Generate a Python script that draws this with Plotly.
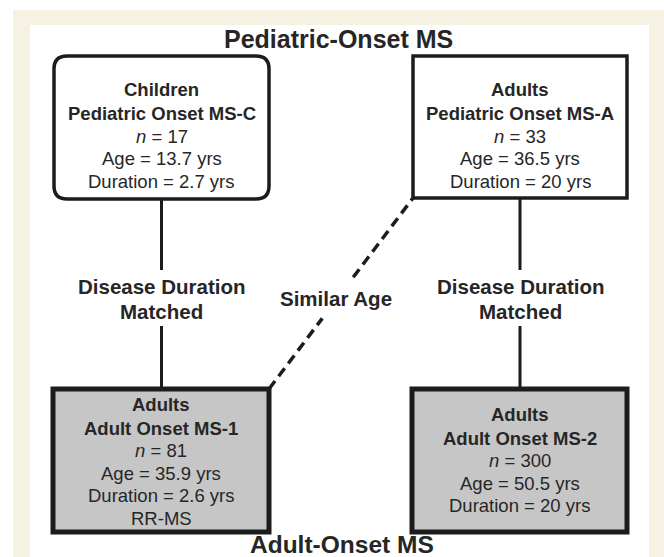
import plotly.graph_objects as go

# ---- data ----
groups = ["Children", "Adults", "Adults", "Adults"]
cohorts = ["Pediatric Onset MS-C", "Pediatric Onset MS-A", "Adult Onset MS-1", "Adult Onset MS-2"]
n_values = [17, 33, 81, 300]
ages = [13.7, 36.5, 35.9, 50.5]
durations = [2.7, 20, 2.6, 20]
extras = ["", "", "RR-MS", ""]
headers = ["Pediatric-Onset MS", "Adult-Onset MS"]
link_labels = ["Disease Duration<br>Matched", "Similar Age", "Disease Duration<br>Matched"]

# ---- layout constants ----
W, H = 664, 557
boxes = [  # x0, x1, y0, y1
    (54, 269, 56, 199),
    (413, 627, 56, 198),
    (53, 269, 389, 532),
    (412, 627, 389, 532),
]
text_start = [89.5, 89.5, 404, 414]
line_offsets = [0, 24, 46.5, 69, 91.5, 114]
FONT = "Liberation Sans, Arial, Helvetica, sans-serif"
TXT = "#262626"
EDGE = "#1c1c1c"

fig = go.Figure()
fig.add_trace(go.Scatter(x=[0, W], y=[0, H], mode="markers",
                         marker=dict(opacity=0), hoverinfo="skip", showlegend=False))

shapes = []
# cream frame and white panel
shapes.append(dict(type="rect", x0=13, x1=W + 2, y0=10, y1=H + 2,
                   fillcolor="#f5f1e3", line_width=0, layer="below"))
shapes.append(dict(type="rect", x0=30, x1=649, y0=25, y1=H + 2,
                   fillcolor="white", line_width=0, layer="below"))

# connectors
cx_left = (boxes[0][0] + boxes[0][1]) / 2
cx_right = (boxes[1][0] + boxes[1][1]) / 2
for cx, top, bot in [(cx_left, boxes[0][3], boxes[2][2]), (cx_right, boxes[1][3], boxes[3][2])]:
    shapes.append(dict(type="line", x0=cx, x1=cx, y0=top, y1=270, line=dict(color=EDGE, width=3)))
    shapes.append(dict(type="line", x0=cx, x1=cx, y0=326, y1=bot, line=dict(color=EDGE, width=3)))

# dashed diagonal from bottom-left box corner to top-right box corner
xa, ya = boxes[2][1], boxes[2][2]
xb, yb = boxes[1][0], boxes[1][3]
def interp(t):
    return xa + (xb - xa) * t, ya + (yb - ya) * t
p1 = interp(0.0); p2 = interp(0.37); p3 = interp(0.585); p4 = interp(1.0)
for (x0, y0), (x1, y1) in [(p1, p2), (p3, p4)]:
    shapes.append(dict(type="line", x0=x0, y0=y0, x1=x1, y1=y1,
                       line=dict(color=EDGE, width=3.5, dash="10px,6px")))

# boxes
for i, (x0, x1, y0, y1) in enumerate(boxes):
    if i == 0:
        r = 13
        path = (f"M {x0+r},{y0} L {x1-r},{y0} Q {x1},{y0} {x1},{y0+r} "
                f"L {x1},{y1-r} Q {x1},{y1} {x1-r},{y1} L {x0+r},{y1} "
                f"Q {x0},{y1} {x0},{y1-r} L {x0},{y0+r} Q {x0},{y0} {x0+r},{y0} Z")
        shapes.append(dict(type="path", path=path, fillcolor="white",
                           line=dict(color=EDGE, width=3.5)))
    elif i == 1:
        shapes.append(dict(type="rect", x0=x0, x1=x1, y0=y0, y1=y1, fillcolor="white",
                           line=dict(color=EDGE, width=3.5)))
    else:
        shapes.append(dict(type="rect", x0=x0, x1=x1, y0=y0, y1=y1, fillcolor="#c6c6c6",
                           line=dict(color=EDGE, width=5)))

annotations = []
def txt(x, y, s, size=16, bold=False):
    annotations.append(dict(x=x, y=y, text=f"<b>{s}</b>" if bold else s, showarrow=False,
                            xanchor="center", yanchor="middle",
                            font=dict(family=FONT, size=size, color=TXT)))

for i, (x0, x1, y0, y1) in enumerate(boxes):
    cx = (x0 + x1) / 2
    lines = [(groups[i], True), (cohorts[i], True),
             (f"<i>n</i> = {n_values[i]}", False),
             (f"Age = {ages[i]:g} yrs", False),
             (f"Duration = {durations[i]:g} yrs", False)]
    if extras[i]:
        lines.append((extras[i], False))
    for k, (s, b) in enumerate(lines):
        txt(cx, text_start[i] + line_offsets[k], s, 18.5, b)

txt(338, 39, headers[0], 25, True)
txt(342, 544.5, headers[1], 24.5, True)

# link labels
dd_left = link_labels[0].split("<br>")
dd_right = link_labels[2].split("<br>")
for k, s in enumerate(dd_left):
    txt(cx_left, 286 + 25 * k, s, 20.5, True)
for k, s in enumerate(dd_right):
    txt(cx_right, 286 + 25 * k, s, 20.5, True)
txt(336, 298, link_labels[1], 20.5, True)

fig.update_layout(
    width=W, height=H, margin=dict(l=0, r=0, t=0, b=0),
    paper_bgcolor="white", plot_bgcolor="white",
    xaxis=dict(range=[0, W], visible=False, fixedrange=True),
    yaxis=dict(range=[H, 0], visible=False, fixedrange=True),
    shapes=shapes, annotations=annotations, showlegend=False,
)
fig.write_html("out.html", config={"displayModeBar": False, "staticPlot": True},
               post_script="document.body.style.margin='0';document.body.style.overflow='hidden';")
